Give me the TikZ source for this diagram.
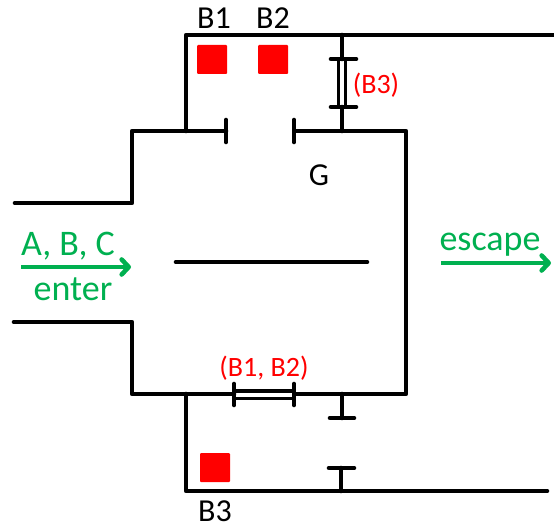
\documentclass[tikz,border=0pt]{standalone}
\usepackage{fontspec}
\setmainfont{Carlito}
\usetikzlibrary{arrows.meta,positioning}
\definecolor{flowgreen}{RGB}{0,176,80}

\begin{document}
\begin{tikzpicture}[
  x=1pt,
  y=-1pt,
  wall/.style={line width=4.6pt, line cap=round, line join=round},
  thinwall/.style={line width=3.2pt},
  ball/.style={fill=red, rounded corners=1pt, minimum width=30pt, minimum height=29pt, inner sep=0pt},
  blacktext/.style={font=\fontsize{32}{32}\selectfont, inner sep=0pt},
  redtext/.style={font=\fontsize{28}{28}\selectfont, text=red, inner sep=0pt},
  flowtext/.style={font=\fontsize{36}{36}\selectfont, text=flowgreen, inner sep=0pt},
  flow/.style={-{Straight Barb[length=7pt,width=15pt,line width=4.6pt,round]}, line width=4.6pt, flowgreen},
]
\useasboundingbox (0,0) rectangle (554,524);

% walls of the upper chamber
\draw[wall] (15,203) -- (132,203) -- (132,131) -- (226,131);
\draw[wall] (295,131) -- (406,131) -- (406,394) -- (295,394);
\draw[wall] (14,322) -- (132,322) -- (132,394) -- (234,394);
\draw[wall] (186,131) -- (186,35) -- (553,35);
\draw[wall] (186,394) -- (186,491) -- (547,491);
\draw[wall] (176,262) -- (367,262);

% gate
\draw[wall] (226,120) -- (226,142);
\draw[wall] (294,120) -- (294,142);

% door to B3
\draw[wall] (342,35) -- (342,59);
\draw[wall] (342,107) -- (342,131);
\draw[wall] (331,59) -- (356,59);
\draw[wall] (331,107) -- (356,107);
\draw[thinwall] (338.5,59) -- (338.5,107);
\draw[thinwall] (345.5,59) -- (345.5,107);

% door to B1, B2
\draw[wall] (234,384) -- (234,405);
\draw[wall] (294,384) -- (294,405);
\draw[thinwall] (234,391) -- (294,391);
\draw[thinwall] (234,398.5) -- (294,398.5);

% lower gap
\draw[wall] (342,394) -- (342,418);
\draw[wall] (330,418) -- (354,418);
\draw[wall] (341,468) -- (341,491);
\draw[wall] (329,468) -- (354,468);

\node[ball] (ball_a) at (212,59.5) {};
\node[ball] (ball_b) at (273,59.5) {};
\node[ball] (ball_c) at (215,467.5) {};

\node[blacktext] (label_a) at (214,18) {B1};
\node[blacktext] (label_b) at (273,18) {B2};
\node[blacktext] (label_c) at (215,511) {B3};
\node[blacktext] (label_g) at (319,175) {G};
\node[redtext] (label_d) at (376,85) {(B3)};
\node[redtext] (label_e) at (264,368.5) {(B1, B2)};

\coordinate (enter_a) at (21,267);
\coordinate (enter_b) at (131,267);
\draw[flow] (enter_a) -- (enter_b);
\node[flowtext] (label_f) at (68,246) {A, B, C};
\node[flowtext] (label_h) at (73,289) {enter};

\coordinate (escape_a) at (441,263);
\coordinate (escape_b) at (551,263);
\draw[flow] (escape_a) -- (escape_b);
\node[flowtext] (label_i) at (490,245) {escape};
\end{tikzpicture}
\end{document}
